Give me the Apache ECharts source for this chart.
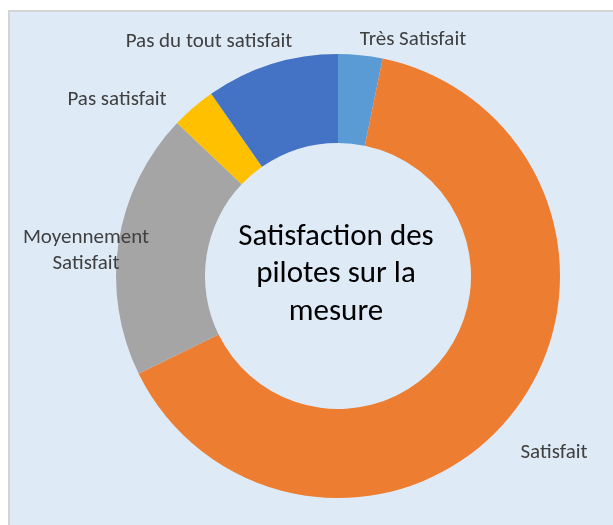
<!DOCTYPE html>
<html>
<head>
<meta charset="utf-8">
<script src="https://cdn.jsdelivr.net/npm/echarts@6/dist/echarts.min.js"></script>
<style>
  html, body { margin: 0; padding: 0; background: #fff; }
  #chart { width: 613px; height: 525px; }
</style>
</head>
<body>
<div id="chart"></div>
<script>
// données (nombre de réponses)
const categories = ['Très Satisfait', 'Satisfait', 'Moyennement\nSatisfait', 'Pas satisfait', 'Pas du tout satisfait'];
const values = [1, 20, 6, 1, 3];
const colors = ['#5B9BD5', '#ED7D31', '#A5A5A5', '#FFC000', '#4472C4'];

// position des étiquettes (comme dans Excel)
const labelPos = [
  { x: 413, y: 40 },
  { x: 554, y: 453 },
  { x: 86, y: 251 },
  { x: 117, y: 100 },
  { x: 209, y: 42 }
];

const myChart = echarts.init(document.getElementById('chart'));

const option = {
  backgroundColor: '#fff',
  animation: false,
  graphic: [
    {
      type: 'rect',
      shape: { x: 9, y: 11, width: 620, height: 530 },
      style: { fill: '#DEEBF7', stroke: '#D4D4D4', lineWidth: 2 },
      z: -10
    }
  ],
  title: {
    text: 'Satisfaction des\npilotes sur la\nmesure',
    left: 336,
    top: 218,
    padding: 0,
    textAlign: 'center',
    textStyle: {
      fontFamily: 'Carlito, Lato, sans-serif',
      fontSize: 31,
      fontWeight: 'normal',
      color: '#000',
      lineHeight: 37.5
    }
  },
  series: [
    {
      type: 'pie',
      center: [338, 276],
      radius: [133, 222],
      startAngle: 90,
      clockwise: true,
      silent: true,
      data: categories.map((name, i) => ({
        name: name,
        value: values[i],
        itemStyle: { color: colors[i] }
      })),
      itemStyle: { borderWidth: 0 },
      label: {
        show: true,
        position: 'outside',
        formatter: '{b}',
        fontFamily: 'Carlito, Lato, sans-serif',
        fontSize: 21,
        color: '#404040',
        lineHeight: 26,
        align: 'center',
        overflow: 'none'
      },
      labelLine: { show: false },
      labelLayout: (params) => ({
        x: labelPos[params.dataIndex].x,
        y: labelPos[params.dataIndex].y,
        align: 'center',
        verticalAlign: 'middle',
        hideOverlap: false
      })
    }
  ]
};

myChart.setOption(option);
</script>
</body>
</html>
